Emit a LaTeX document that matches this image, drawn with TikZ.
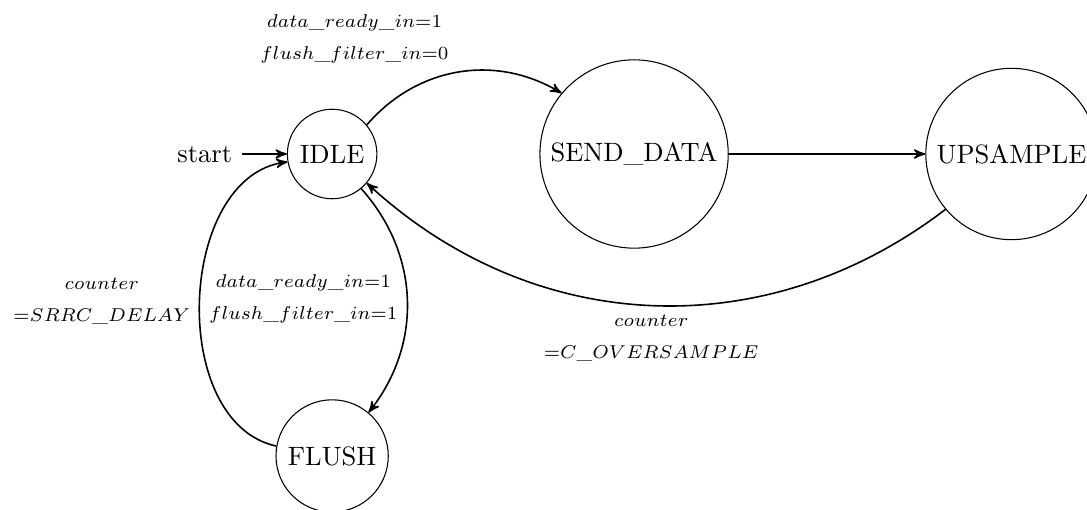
\documentclass[tikz,border=0pt]{standalone}
\usetikzlibrary{automata,positioning,arrows}

\begin{document}
\begin{tikzpicture}[>=stealth',
  guard/.style={font=\scriptsize, align=center},
  trans/.style={->, semithick}]
\useasboundingbox (-4.4,-4.715) rectangle (10.0,2.04);
% ---------- states ----------
\node[state] (IDLE) at (0,0) {IDLE};
\node[state] (SEND) at (4,0) {SEND\_DATA};
\node[state] (UPS) at (9,0) {UPSAMPLE};
\node[state] (FLUSH) at (0,-4) {FLUSH};
\node (start) [left=0.6cm of IDLE] {start};
% ---------- transitions ----------
\draw[trans] (start) -- (IDLE);
\path[trans]
  (IDLE) edge[bend left=40] node[guard, above left] (g1)
    {$data\_ready\_in$=1\\[4pt] $flush\_filter\_in$=0} (SEND)
  (SEND) edge (UPS)
  (UPS) edge[bend left=40] node[guard, below] (g2)
    {$counter$\\[4pt] =$C\_OVERSAMPLE$} (IDLE)
  (IDLE) edge[bend left=40] node[guard, left] (g3)
    {$data\_ready\_in$=1\\[4pt] $flush\_filter\_in$=1} (FLUSH)
  (FLUSH) edge[bend left=80] node[guard, left] (g4)
    {$counter$\\[4pt] =$SRRC\_DELAY$} (IDLE);
\end{tikzpicture}
\end{document}
